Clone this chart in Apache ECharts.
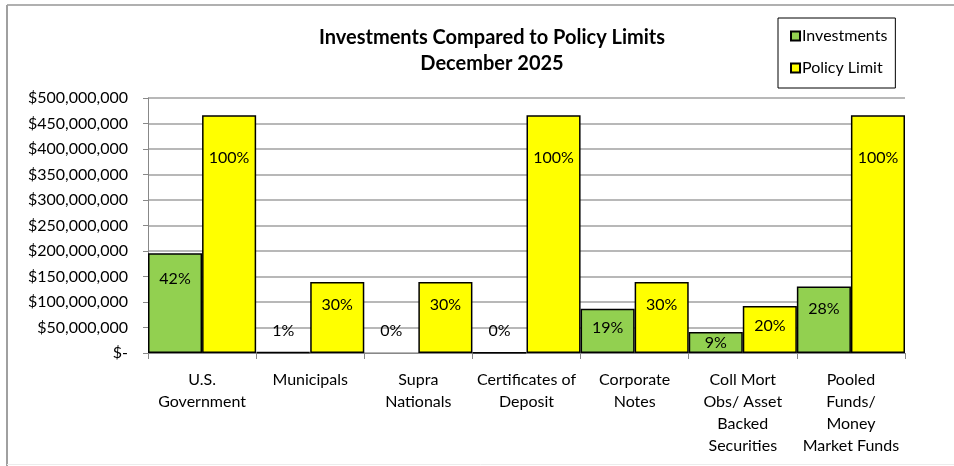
<!DOCTYPE html>
<html>
<head>
<meta charset="utf-8">
<script src="https://cdn.jsdelivr.net/npm/echarts@6/dist/echarts.min.js"></script>
<style>html,body{margin:0;padding:0;background:#fff;}#c{width:954px;height:466px;}</style>
</head>
<body>
<div id="c"></div>
<script>
var categories = ['U.S.\nGovernment', 'Municipals', 'Supra\nNationals', 'Certificates of\nDeposit', 'Corporate\nNotes', 'Coll Mort\nObs/ Asset\nBacked\nSecurities', 'Pooled\nFunds/\nMoney\nMarket Funds'];
var investments = [195500000, 2000000, 0, 1000000, 87000000, 41000000, 130500000];
var policyLimit = [466000000, 139000000, 139000000, 466000000, 139000000, 92000000, 466000000];
var investPct = ['42%', '1%', '0%', '0%', '19%', '9%', '28%'];
var limitPct = ['100%', '30%', '30%', '100%', '30%', '20%', '100%'];
var yTicks = { min: 0, max: 500000000, interval: 50000000 };

var FONT = 'Lato';
var GRID = { left: 148, right: 49, top: 98, bottom: 113 };
var plotH = 466 - GRID.top - GRID.bottom;

function labelOffset(v) {
  var h = v / yTicks.max * plotH;
  if (h < 10) return h - 22;
  return Math.min(h / 2, 14 + 0.12 * h);
}
function buildData(vals, pcts) {
  return vals.map(function (v, i) {
    var d = {
      value: v,
      label: {
        show: true,
        formatter: pcts[i],
        position: ['50%', labelOffset(v)],
        align: 'center',
        verticalAlign: 'middle',
        color: '#000',
        fontFamily: FONT,
        fontSize: 16
      }
    };
    if (v === 0) d.itemStyle = { borderWidth: 0 };
    return d;
  });
}
function fmtMoney(v) {
  if (v === 0) return '$-';
  return '$' + v.toString().replace(/\B(?=(\d{3})+(?!\d))/g, ',');
}

var chart = echarts.init(document.getElementById('c'));
chart.setOption({
  animation: false,
  backgroundColor: '#fff',
  textStyle: { fontFamily: FONT },
  graphic: [
    { type: 'line', shape: { x1: 7, y1: 5, x2: 954, y2: 5 }, style: { stroke: '#b0b0b0', lineWidth: 2 } },
    { type: 'line', shape: { x1: 7, y1: 5, x2: 7, y2: 466 }, style: { stroke: '#a0a0a0', lineWidth: 2 } },
    { type: 'line', shape: { x1: 7, y1: 464.5, x2: 954, y2: 464.5 }, style: { stroke: '#ececec', lineWidth: 1 } }
  ],
  title: {
    text: 'Investments Compared to Policy Limits\nDecember 2025',
    left: 487,
    top: 20,
    textAlign: 'center',
    textStyle: { fontFamily: FONT, fontWeight: 'bold', fontSize: 20, lineHeight: 26, color: '#000' }
  },
  legend: {
    orient: 'vertical',
    left: 778,
    top: 18,
    padding: [10, 8, 12, 12],
    itemGap: 16,
    itemWidth: 9,
    itemHeight: 9,
    borderColor: '#000',
    borderWidth: 1,
    textStyle: { fontFamily: FONT, fontSize: 16, color: '#000', padding: [0, 0, 0, -3] },
    data: [{ name: 'Investments', icon: 'rect' }, { name: 'Policy Limit', icon: 'rect' }]
  },
  grid: GRID,
  xAxis: {
    type: 'category',
    data: categories,
    axisLine: { lineStyle: { color: '#888', width: 1 } },
    axisTick: { show: true, length: 6, lineStyle: { color: '#888' } },
    axisLabel: { color: '#000', fontFamily: FONT, fontSize: 16, lineHeight: 22, margin: 16, interval: 0 },
    splitLine: { show: false }
  },
  yAxis: {
    type: 'value',
    min: yTicks.min,
    max: yTicks.max,
    interval: yTicks.interval,
    axisLine: { show: true, lineStyle: { color: '#888' } },
    axisTick: { show: true, length: 5, lineStyle: { color: '#888' } },
    axisLabel: { color: '#000', fontFamily: FONT, fontSize: 16, margin: 20, formatter: fmtMoney },
    splitLine: { lineStyle: { color: '#a0a0a0', width: 1.5 } }
  },
  series: [
    {
      name: 'Investments',
      type: 'bar',
      barGap: '0%',
      barCategoryGap: '0%',
      itemStyle: { color: '#92D050', borderColor: '#000', borderWidth: 1.5 },
      data: buildData(investments, investPct)
    },
    {
      name: 'Policy Limit',
      type: 'bar',
      barGap: '0%',
      barCategoryGap: '0%',
      itemStyle: { color: '#FFFF00', borderColor: '#000', borderWidth: 1.5 },
      data: buildData(policyLimit, limitPct)
    }
  ]
});
</script>
</body>
</html>
